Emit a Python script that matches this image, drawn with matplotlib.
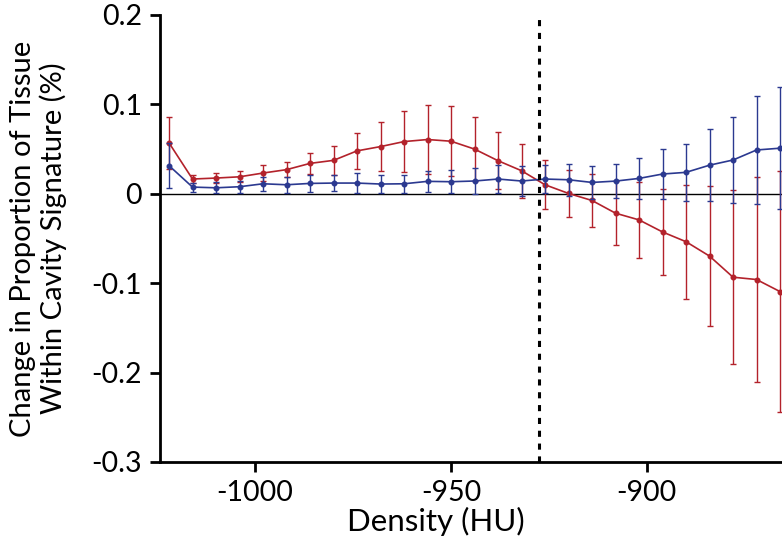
import numpy as np
import matplotlib.pyplot as plt

plt.rcParams['font.family'] = ['Lato', 'DejaVu Sans']

# density bins (HU)
density = [-1022, -1016, -1010, -1004, -998, -992, -986, -980, -974, -968,
           -962, -956, -950, -944, -938, -932, -926, -920, -914, -908,
           -902, -896, -890, -884, -878, -872, -866]

red_mean = [0.057, 0.0165, 0.0176, 0.019, 0.0232, 0.027, 0.034, 0.0374, 0.048, 0.0528,
            0.0584, 0.0607, 0.0588, 0.050, 0.037, 0.0258, 0.0101, 0.0004, -0.0075, -0.0217,
            -0.0292, -0.0427, -0.0536, -0.0697, -0.0933, -0.0959, -0.1094]
red_err = [0.029, 0.0045, 0.006, 0.006, 0.0086, 0.0087, 0.012, 0.016, 0.020, 0.0275,
           0.034, 0.039, 0.039, 0.036, 0.032, 0.030, 0.0275, 0.026, 0.030, 0.0356,
           0.0425, 0.0485, 0.0636, 0.078, 0.097, 0.115, 0.135]

blue_mean = [0.0315, 0.0075, 0.0067, 0.0079, 0.0112, 0.0101, 0.0116, 0.012, 0.012, 0.0109,
             0.0112, 0.0139, 0.0135, 0.0143, 0.0165, 0.0143, 0.0165, 0.0157, 0.0127, 0.0142,
             0.0172, 0.0221, 0.024, 0.032, 0.0378, 0.049, 0.051]
blue_err = [0.025, 0.005, 0.006, 0.0066, 0.0079, 0.009, 0.0095, 0.0088, 0.011, 0.0105,
            0.010, 0.0115, 0.013, 0.0145, 0.016, 0.017, 0.0157, 0.018, 0.018, 0.019,
            0.0225, 0.0275, 0.032, 0.040, 0.048, 0.060, 0.068]

threshold = -927.5

xticks = [-1000, -950, -900]
xtick_labels = ['-1000', '-950', '-900']
yticks = [0.2, 0.1, 0, -0.1, -0.2, -0.3]
ytick_labels = ['0.2', '0.1', '0', '-0.1', '-0.2', '-0.3']

red = '#B3222B'
blue = '#2B3990'

fig = plt.figure(figsize=(7.82, 5.47), dpi=100)
ax = fig.add_axes([0.2046, 0.1554, 0.7954, 0.8172])

ax.axhline(0, color='black', lw=1.0, zorder=1)
ax.errorbar(density, red_mean, yerr=red_err, color=red, ecolor=red, lw=1.2,
            elinewidth=1.0, capsize=2.2, capthick=1.0, marker='o', ms=3.3, zorder=3)
ax.errorbar(density, blue_mean, yerr=blue_err, color=blue, ecolor=blue, lw=1.2,
            elinewidth=1.0, capsize=2.2, capthick=1.0, marker='o', ms=3.3, zorder=4)
ax.axvline(threshold, color='black', lw=2.2, linestyle=(0, (2, 2.2)), zorder=5)

ax.set_xlim(-1024.3, -865.5)
ax.set_ylim(-0.3, 0.2)
ax.set_xticks(xticks, labels=xtick_labels)
ax.set_yticks(yticks, labels=ytick_labels)

for s in ['top', 'right']:
    ax.spines[s].set_visible(False)
for s in ['left', 'bottom']:
    ax.spines[s].set_linewidth(2)
ax.tick_params(width=2, length=7, labelsize=20.5, direction='out', pad=6)

ax.set_xlabel('Density (HU)', fontsize=22.5, va='top')
ax.xaxis.set_label_coords(0.443, -0.1)
ax.set_ylabel('Change in Proportion of Tissue\nWithin Cavity Signature (%)', fontsize=21,
              linespacing=1.15)
ax.yaxis.set_label_coords(-0.15, 0.5)

fig.savefig('out.png', dpi=100)
